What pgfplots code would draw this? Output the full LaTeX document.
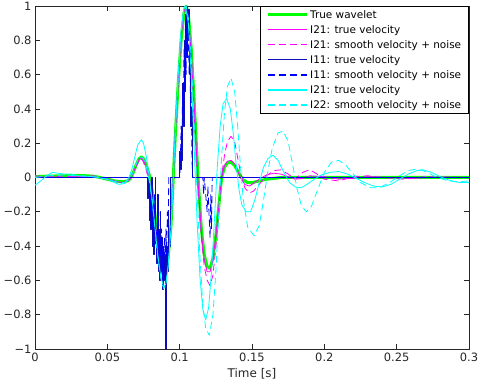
\documentclass[border=0pt]{standalone}
\usepackage{fontspec}
\setmainfont{DejaVu Sans}
\usepackage{pgfplots}
\pgfplotsset{compat=1.18}
\usetikzlibrary{calc}
\definecolor{mgreen}{rgb}{0,1,0}
\definecolor{mmag}{rgb}{1,0,1}
\definecolor{mcyan}{rgb}{0,1,1}
\definecolor{mblue}{rgb}{0,0,1}
\definecolor{navy}{rgb}{0.05,0.05,0.72}
\definecolor{axgray}{rgb}{0.15,0.15,0.15}
\pgfplotsset{thinleg/.style={legend image post style={line width=1.1bp}}}
\begin{document}
\begin{tikzpicture}
\begin{axis}[name=ax, scale only axis, width=434bp, height=343bp,
  xmin=0, xmax=0.3, ymin=-1, ymax=1,
  xtick={0,0.05,0.1,0.15,0.2,0.25,0.3},
  xticklabels={0,0.05,0.1,0.15,0.2,0.25,0.3},
  ytick={-1,-0.8,-0.6,-0.4,-0.2,0,0.2,0.4,0.6,0.8,1},
  yticklabels={−1,−0.8,−0.6,−0.4,−0.2,0,0.2,0.4,0.6,0.8,1},
  tick align=inside, xtick pos=both, ytick pos=both,
  xticklabel pos=left, yticklabel pos=left,
  major tick length=5bp,
  axis line style={axgray, line width=0.6bp},
  tick style={axgray, line width=0.6bp},
  ticklabel style={font=\fontsize{11.5}{13}\selectfont, text=axgray},
  xlabel={Time [s]},
  xlabel style={font=\fontsize{12}{14}\selectfont, text=axgray},
  legend cell align=left,
  legend style={at={(1,1)}, anchor=north east, draw=black, line width=0.7bp,
    fill=white, font=\fontsize{10.5}{12}\selectfont, inner xsep=5.5bp, inner ysep=1.8bp,
    row sep=1.6bp},
  legend image code/.code={\draw[#1] (0bp,0bp) -- (39bp,0bp);},
  every axis plot/.append style={line join=round},
]
% True wavelet
\addplot[mgreen, line width=3bp] coordinates {
(0.000,0.005)(0.010,0.008)(0.020,0.010)(0.030,0.012)(0.040,0.008)(0.045,0.0)
(0.050,-0.010)(0.055,-0.020)(0.060,-0.025)(0.064,-0.020)(0.066,-0.005)(0.068,0.030)
(0.070,0.075)(0.072,0.110)(0.0735,0.120)(0.075,0.110)(0.077,0.070)(0.0795,0.0)
(0.081,-0.08)(0.083,-0.22)(0.085,-0.38)(0.087,-0.51)(0.089,-0.58)(0.0905,-0.56)
(0.092,-0.47)(0.094,-0.28)(0.0956,0.0)(0.097,0.25)(0.099,0.55)(0.101,0.80)
(0.103,0.96)(0.1045,1.0)(0.106,0.95)(0.108,0.75)(0.110,0.45)(0.1127,0.0)
(0.115,-0.30)(0.117,-0.45)(0.119,-0.52)(0.121,-0.53)(0.123,-0.47)(0.125,-0.34)
(0.127,-0.17)(0.129,0.0)(0.131,0.06)(0.133,0.085)(0.1355,0.09)(0.138,0.07)
(0.140,0.04)(0.142,0.01)(0.144,-0.015)(0.147,-0.03)(0.150,-0.03)(0.155,-0.02)
(0.160,-0.01)(0.170,0.0)(0.300,0.0)};
\addlegendentry{True wavelet}
% I21 true velocity (magenta)
\addplot[mmag, line width=0.8bp, thinleg] coordinates {
(0,0.0)(0.01,0.005)(0.02,0.0)(0.03,0.005)(0.04,0.005)(0.05,-0.01)(0.055,-0.02)
(0.060,-0.03)(0.064,-0.02)(0.066,-0.005)(0.068,0.03)(0.070,0.07)(0.072,0.105)
(0.0735,0.115)(0.075,0.105)(0.077,0.06)(0.079,0.0)(0.081,-0.1)(0.083,-0.25)
(0.085,-0.40)(0.087,-0.52)(0.089,-0.58)(0.0905,-0.55)(0.092,-0.45)(0.094,-0.26)
(0.0955,0.0)(0.097,0.27)(0.099,0.57)(0.101,0.82)(0.103,0.97)(0.1045,0.99)
(0.106,0.93)(0.108,0.73)(0.110,0.42)(0.1125,0.0)(0.115,-0.32)(0.117,-0.48)
(0.119,-0.55)(0.121,-0.55)(0.123,-0.48)(0.125,-0.34)(0.127,-0.17)(0.129,0.0)
(0.131,0.07)(0.133,0.095)(0.1355,0.10)(0.138,0.08)(0.140,0.04)(0.142,0.0)
(0.145,-0.04)(0.148,-0.05)(0.151,-0.035)(0.155,-0.01)(0.160,0.015)(0.165,0.025)
(0.170,0.02)(0.175,0.005)(0.180,-0.01)(0.185,-0.005)(0.190,0.01)(0.200,0.005)
(0.210,-0.01)(0.220,-0.005)(0.230,0.005)(0.245,0.0)(0.260,-0.005)(0.280,0.003)(0.300,0.0)};
\addlegendentry{I21: true velocity}
% I21 smooth velocity + noise (magenta dashed)
\addplot[mmag, line width=0.8bp, dash pattern=on 7bp off 4bp, thinleg] coordinates {
(0,0.01)(0.01,0.0)(0.02,0.01)(0.03,0.0)(0.04,0.01)(0.05,-0.01)(0.056,-0.025)
(0.062,-0.03)(0.065,-0.015)(0.068,0.03)(0.070,0.07)(0.072,0.10)(0.0735,0.11)
(0.075,0.09)(0.077,0.04)(0.079,-0.03)(0.081,-0.13)(0.083,-0.28)(0.085,-0.43)
(0.087,-0.55)(0.089,-0.62)(0.0905,-0.58)(0.092,-0.48)(0.094,-0.28)(0.0955,-0.02)
(0.097,0.26)(0.099,0.56)(0.101,0.83)(0.103,0.98)(0.1045,1.0)(0.106,0.94)
(0.108,0.72)(0.110,0.38)(0.1125,-0.03)(0.115,-0.35)(0.117,-0.52)(0.119,-0.60)
(0.121,-0.63)(0.123,-0.57)(0.125,-0.41)(0.127,-0.20)(0.129,0.01)(0.131,0.13)
(0.133,0.21)(0.1355,0.24)(0.138,0.21)(0.140,0.12)(0.142,0.03)(0.145,-0.06)
(0.148,-0.09)(0.151,-0.08)(0.155,-0.04)(0.160,0.01)(0.165,0.04)(0.170,0.045)
(0.175,0.02)(0.180,-0.01)(0.185,0.03)(0.190,0.045)(0.195,0.02)(0.200,-0.01)
(0.210,-0.02)(0.220,0.005)(0.230,0.01)(0.240,0.0)(0.255,-0.01)(0.270,0.005)
(0.285,0.0)(0.300,0.0)};
\addlegendentry{I21: smooth velocity + noise}
% I11 true velocity (navy, spiky)
\addplot[navy, line width=0.8bp, const plot, thinleg] coordinates {
(0.000,0)(0.0780,-0.12)(0.0785,0)(0.0790,-0.25)(0.0795,-0.05)(0.0800,-0.30)
(0.0805,0)(0.0810,-0.40)(0.0815,-0.15)(0.0820,-0.45)(0.0825,-0.2)(0.0830,0)
(0.0835,-0.35)(0.0840,-0.5)(0.0845,-0.1)(0.0850,-0.55)(0.0855,-0.3)(0.0860,-0.6)
(0.0865,-0.2)(0.0870,-0.55)(0.0875,-0.35)(0.0880,-0.65)(0.0885,-0.4)(0.0890,-0.6)
(0.0895,-0.45)(0.0900,-1.2)(0.0910,-0.4)(0.0915,-0.55)(0.0920,-0.2)(0.0925,-0.4)
(0.0935,0)(0.1000,0.15)(0.1005,0.05)(0.1010,0.3)(0.1015,0.1)(0.1020,0.55)
(0.1025,0.3)(0.1030,0.8)(0.1035,0.5)(0.1040,0.95)(0.1045,0.7)(0.1050,1.0)
(0.1055,0.8)(0.1060,0.98)(0.1065,0.6)(0.1070,0.75)(0.1075,0.3)(0.1080,0.4)
(0.1085,0)(0.300,0)};
\addlegendentry{I11: true velocity}
% I11 smooth velocity + noise (blue dashed)
\addplot[mblue, line width=0.8bp, dash pattern=on 7bp off 4bp, thinleg] coordinates {
(0,0)(0.079,0)(0.0795,-0.1)(0.080,-0.2)(0.0805,-0.05)(0.081,-0.3)(0.0815,-0.15)
(0.082,-0.35)(0.0825,-0.1)(0.083,-0.4)(0.0835,-0.25)(0.084,-0.45)(0.0845,-0.3)
(0.085,-0.5)(0.0855,-0.2)(0.086,-0.55)(0.0865,-0.35)(0.087,-0.5)(0.0875,-0.3)
(0.088,-0.6)(0.0885,-0.4)(0.089,-0.55)(0.0895,-0.35)(0.090,-0.5)(0.0905,-0.3)
(0.091,-0.45)(0.0915,-0.2)(0.092,-0.3)(0.0925,0)(0.100,0)(0.1005,0.1)(0.101,0.3)
(0.1015,0.15)(0.102,0.5)(0.1025,0.35)(0.103,0.75)(0.1035,0.5)(0.104,0.9)
(0.1045,0.6)(0.105,1.0)(0.1055,0.7)(0.106,0.95)(0.1065,0.6)(0.107,0.8)
(0.1075,0.4)(0.108,0.5)(0.1085,0.1)(0.109,0)(0.116,0)(0.1165,-0.1)(0.117,0)
(0.119,-0.2)(0.1195,-0.05)(0.121,-0.35)(0.1215,-0.1)(0.122,-0.3)(0.1225,0)(0.300,0)};
\addlegendentry{I11: smooth velocity + noise}
% I21 true velocity (cyan)
\addplot[mcyan, line width=0.8bp, thinleg] coordinates {
(0,-0.045)(0.004,-0.02)(0.008,0.01)(0.012,0.03)(0.016,0.025)(0.020,0.02)
(0.025,0.02)(0.030,0.01)(0.040,0.005)(0.050,-0.01)(0.055,-0.03)(0.058,-0.04)
(0.062,-0.035)(0.065,0.0)(0.067,0.05)(0.069,0.12)(0.071,0.19)(0.0735,0.22)
(0.075,0.2)(0.077,0.12)(0.079,0.0)(0.081,-0.13)(0.083,-0.30)(0.085,-0.46)
(0.087,-0.58)(0.089,-0.64)(0.0905,-0.62)(0.092,-0.52)(0.094,-0.30)(0.0955,-0.02)
(0.097,0.28)(0.099,0.60)(0.101,0.86)(0.103,0.99)(0.104,1.0)(0.106,0.9)
(0.108,0.6)(0.110,0.18)(0.112,-0.25)(0.114,-0.58)(0.116,-0.77)(0.118,-0.83)
(0.120,-0.76)(0.122,-0.55)(0.124,-0.25)(0.126,0.06)(0.128,0.30)(0.130,0.43)
(0.1325,0.46)(0.135,0.40)(0.137,0.26)(0.139,0.08)(0.141,-0.07)(0.143,-0.16)
(0.146,-0.20)(0.149,-0.20)(0.152,-0.13)(0.155,-0.03)(0.158,0.06)(0.161,0.11)
(0.1645,0.13)(0.168,0.10)(0.172,0.03)(0.176,-0.03)(0.180,-0.055)(0.184,-0.06)
(0.188,-0.04)(0.193,-0.01)(0.198,0.015)(0.204,0.03)(0.210,0.035)(0.216,0.02)
(0.222,-0.005)(0.228,-0.03)(0.234,-0.05)(0.240,-0.055)(0.246,-0.04)(0.252,-0.01)
(0.258,0.02)(0.264,0.04)(0.268,0.045)(0.274,0.03)(0.280,0.005)(0.286,-0.015)
(0.292,-0.028)(0.300,-0.03)};
\addlegendentry{I21: true velocity}
% I22 smooth velocity + noise (cyan dashed)
\addplot[mcyan, line width=0.8bp, dash pattern=on 7bp off 4bp, thinleg] coordinates {
(0,0.0)(0.01,0.01)(0.02,0.015)(0.03,0.01)(0.04,0.005)(0.05,-0.01)(0.056,-0.025)
(0.062,-0.03)(0.065,-0.01)(0.068,0.03)(0.070,0.08)(0.072,0.115)(0.0735,0.12)
(0.075,0.11)(0.077,0.06)(0.079,-0.02)(0.081,-0.14)(0.083,-0.30)(0.085,-0.47)
(0.087,-0.59)(0.089,-0.65)(0.0905,-0.62)(0.092,-0.52)(0.094,-0.30)(0.0955,-0.02)
(0.097,0.27)(0.099,0.58)(0.101,0.85)(0.103,0.99)(0.1045,1.0)(0.106,0.93)
(0.108,0.70)(0.110,0.33)(0.112,-0.08)(0.114,-0.46)(0.116,-0.74)(0.118,-0.88)
(0.1205,-0.92)(0.123,-0.80)(0.125,-0.55)(0.127,-0.22)(0.129,0.12)(0.131,0.38)
(0.133,0.53)(0.1355,0.58)(0.138,0.50)(0.140,0.31)(0.142,0.07)(0.144,-0.13)
(0.147,-0.29)(0.1515,-0.34)(0.155,-0.28)(0.158,-0.13)(0.161,0.04)(0.164,0.17)
(0.168,0.26)(0.1715,0.27)(0.175,0.21)(0.178,0.08)(0.181,-0.06)(0.184,-0.16)
(0.1875,-0.2)(0.191,-0.17)(0.195,-0.08)(0.200,0.03)(0.205,0.09)(0.210,0.10)
(0.215,0.07)(0.220,0.02)(0.225,-0.03)(0.232,-0.06)(0.238,-0.06)(0.245,-0.03)
(0.252,0.01)(0.258,0.04)(0.264,0.05)(0.270,0.035)(0.278,0.0)(0.286,-0.02)
(0.293,-0.025)(0.300,-0.02)};
\addlegendentry{I22: smooth velocity + noise}
\end{axis}
\pgfresetboundingbox
\path[use as bounding box] ($(ax.south west)+(-35bp,-39bp)$) rectangle ($(ax.north east)+(10bp,6bp)$);
\end{tikzpicture}
\end{document}
